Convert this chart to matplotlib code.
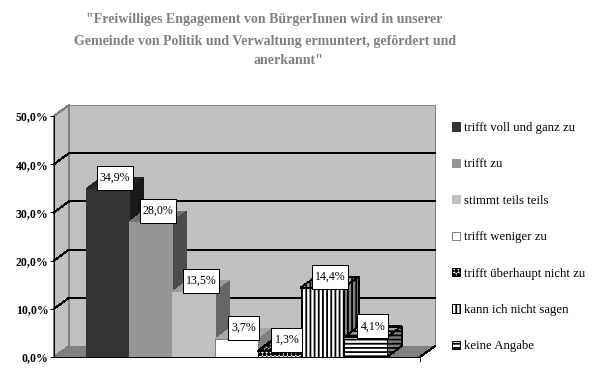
import matplotlib
matplotlib.use("Agg")
import matplotlib.pyplot as plt
from matplotlib.patches import Polygon, Rectangle

categories = ["trifft voll und ganz zu", "trifft zu", "stimmt teils teils", "trifft weniger zu",
              "trifft überhaupt nicht zu", "kann ich nicht sagen", "keine Angabe"]
values = [34.9, 28.0, 13.5, 3.7, 1.3, 14.4, 4.1]
labels = ["34,9%", "28,0%", "13,5%", "3,7%", "1,3%", "14,4%", "4,1%"]
yticks = [0, 10, 20, 30, 40, 50]
yticklabels = ["0,0%", "10,0%", "20,0%", "30,0%", "40,0%", "50,0%"]
front = ["#333333", "#969696", "#c0c0c0", "#ffffff", "#ffffff", "#ffffff", "#ffffff"]
side = ["#1a1a1a", "#4d4d4d", "#666666", "#808080", "#808080", "#808080", "#808080"]
top = ["#262626", "#737373", "#999999", "#a6a6a6", "#a6a6a6", "#a6a6a6", "#a6a6a6"]
hatches = [None, None, None, None, "oooo", "||||", "----"]
title_lines = ['"Freiwilliges Engagement von BürgerInnen wird in unserer',
               'Gemeinde von Politik und Verwaltung ermuntert, gefördert und',
               'anerkannt"']
title_x = [264, 265, 288]
title_y = [19, 41, 61]

W, H = 598, 392
plt.rcParams["font.family"] = ["Liberation Serif", "DejaVu Serif"]
plt.rcParams["hatch.linewidth"] = 1.3
fig = plt.figure(figsize=(W / 100, H / 100), dpi=100, facecolor="white")
L, R, B, T = 54, 420, 357, 116
ax = fig.add_axes([L / W, 1 - B / H, (R - L) / W, (B - T) / H])
ppx = 43.0
ppy = (B - T) / 50
xmin = -0.5 - (86 - L) / ppx
xmax = xmin + (R - L) / ppx
ax.set_xlim(xmin, xmax)
ax.set_ylim(0, 50)
ax.patch.set_visible(False)
dx = 15 / ppx
dy = 11 / ppy
LW = 0.72

def poly(pts, fc, ec="none", z=1, hatch=None):
    p = Polygon(pts, closed=True, facecolor=fc, edgecolor=ec, lw=LW, zorder=z,
                clip_on=False, hatch=hatch, antialiased=False)
    ax.add_patch(p)

# walls
poly([(xmin, 0), (xmin + dx, dy), (xmin + dx, 50 + dy), (xmin, 50)], "#c0c0c0", "#808080")
poly([(xmin + dx, dy), (xmax + dx, dy), (xmax + dx, 50 + dy), (xmin + dx, 50 + dy)], "#c0c0c0", "#808080")
poly([(xmin, 0), (xmax, 0), (xmax + dx, dy), (xmin + dx, dy)], "#808080", "none")
for t in yticks[1:-1]:
    ax.plot([xmin, xmin + dx, xmax + dx], [t, t + dy, t + dy], color="black", lw=LW, zorder=1.5,
            clip_on=False, antialiased=False)
ax.plot([xmax, xmax + dx], [0, dy], color="black", lw=LW, zorder=1.5, clip_on=False, antialiased=False)
ax.plot([xmax, xmax], [0, -0.9], color="black", lw=LW, zorder=5, clip_on=False, antialiased=False)

# bars
d = 0.985 * dx
for i, v in enumerate(values):
    z = 2 + i
    h = hatches[i]
    ec = "black" if h else "#808080"
    poly([(i - .5, v), (i + .5, v), (i + .5 + d, v + dy), (i - .5 + d, v + dy)], top[i], ec if h else "none", z + .1, hatch=h)
    poly([(i + .5, 0), (i + .5 + d, dy), (i + .5 + d, v + dy), (i + .5, v)], side[i], ec if h else "none", z + .1, hatch=h)
    ax.bar(i, v, width=1, color=front[i], edgecolor=ec if (h or i == 3) else front[i], hatch=h, lw=LW,
           zorder=z + .2, label=categories[i], clip_on=False, antialiased=False)

# data labels
for i, (v, s) in enumerate(zip(values, labels)):
    bw = (36 if len(s) == 5 else 31) / ppx
    bh = 24 / ppy
    cx, cy = i + d / 2, v + dy
    ax.add_patch(Rectangle((cx - bw / 2, cy - bh / 2), bw, bh, fc="white", ec="black", lw=LW,
                           zorder=20, clip_on=False, antialiased=False))
    ax.text(cx, cy, s, ha="center", va="center", fontsize=8.6, color="black", zorder=21, clip_on=False)

for s in ("top", "right"):
    ax.spines[s].set_visible(False)
ax.spines["left"].set_zorder(10)
ax.spines["bottom"].set_zorder(10)
ax.spines["left"].set_linewidth(LW)
ax.spines["bottom"].set_linewidth(LW)
ax.set_xticks([])
ax.set_yticks(yticks)
ax.set_yticklabels(yticklabels, fontsize=8.5, fontweight="bold")
ax.tick_params(axis="y", length=3, width=LW, pad=1)

leg = ax.legend(loc="upper left", bbox_to_anchor=(452 / W, 1 - 122 / H), bbox_transform=fig.transFigure,
                frameon=False, fontsize=9.2, handlelength=0.6, handleheight=0.6, handletextpad=0.3,
                labelspacing=1.91, borderpad=0, borderaxespad=0)

for s, x, y in zip(title_lines, title_x, title_y):
    fig.text(x / W, 1 - y / H, s, ha="center", va="center", fontsize=10, fontweight="bold", color="#808080")

fig.savefig("out.png", dpi=100, facecolor="white")
